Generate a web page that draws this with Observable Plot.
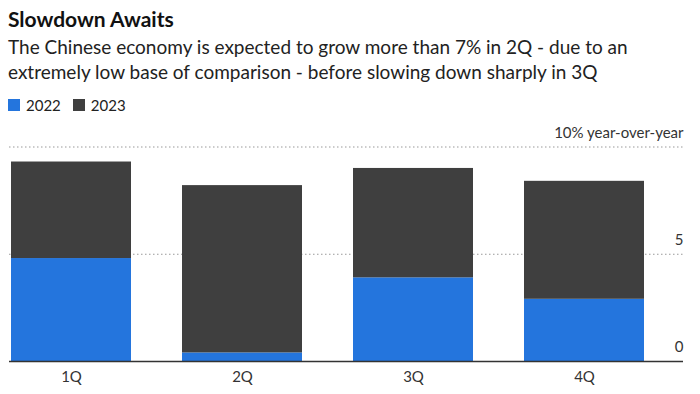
<!DOCTYPE html>
<html>
<head>
<meta charset="utf-8">
<script src="https://cdn.jsdelivr.net/npm/d3@7"></script>
<script src="https://cdn.jsdelivr.net/npm/@observablehq/plot@0.6"></script>
<style>
  html, body { margin: 0; padding: 0; background: #fff; }
  body { width: 700px; height: 394px; overflow: hidden; font-family: Lato, "Noto Sans", sans-serif; color: #222; }
  #head { position: relative; height: 118px; }
  #title { position: absolute; left: 8px; top: 6px; font-size: 21px; font-weight: 700; color: #111; white-space: nowrap; }
  #sub { position: absolute; left: 8px; top: 34px; font-size: 19px; line-height: 25px; color: #222; white-space: nowrap; }
  #legend { position: absolute; left: 8px; top: 96px; font-size: 15px; color: #222; display: flex; align-items: center; }
  .sw { display: inline-block; width: 12px; height: 12px; margin-right: 6px; }
  .item { display: flex; align-items: center; margin-right: 12px; }
  #chart svg { display: block; }
</style>
</head>
<body>
<div id="head">
  <div id="title">Slowdown Awaits</div>
  <div id="sub">The Chinese economy is expected to grow more than 7% in 2Q - due to an<br>extremely low base of comparison - before slowing down sharply in 3Q</div>
  <div id="legend"></div>
</div>
<div id="chart"></div>
<script>
const quarters = ["1Q", "2Q", "3Q", "4Q"];
const years = ["2022", "2023"];
const values2022 = [4.8, 0.4, 3.9, 2.9];
const values2023 = [4.5, 7.8, 5.1, 5.5];
const yTicks = [0, 5, 10];
const yTickLabels = ["0", "5", "10% year-over-year"];
const colors = ["#2475dd", "#3f3f3f"];

const rows = [];
quarters.forEach((q, i) => {
  rows.push({quarter: q, year: years[0], value: values2022[i]});
  rows.push({quarter: q, year: years[1], value: values2023[i]});
});

const legend = document.getElementById("legend");
years.forEach((y, i) => {
  const it = document.createElement("span");
  it.className = "item";
  it.innerHTML = `<span class="sw" style="background:${colors[i]}"></span>${y}`;
  legend.appendChild(it);
});

const gridTicks = yTicks.filter(t => t !== 0);
const tickRows = yTicks.map((t, i) => ({t, label: yTickLabels[i]}));

const chart = Plot.plot({
  width: 700,
  height: 276,
  marginLeft: 9,
  marginRight: 17,
  marginTop: 28.5,
  marginBottom: 33,
  style: {fontFamily: "Lato, 'Noto Sans', sans-serif", fontSize: "15px", color: "#333", background: "#fff"},
  x: {type: "band", domain: quarters, range: [9, 645], paddingInner: 0.3, paddingOuter: 0, label: null, tickSize: 0, tickPadding: 10},
  y: {domain: [0, 10], axis: null},
  color: {domain: years, range: colors},
  marks: [
    Plot.ruleY(gridTicks, {stroke: "#999", strokeDasharray: "1.5,2.5", strokeWidth: 1}),
    Plot.barY(rows, {x: "quarter", y: "value", fill: "year"}),
    Plot.ruleY([0], {stroke: "#333", strokeWidth: 1.5}),
    Plot.text(tickRows, {y: "t", text: "label", frameAnchor: "right", textAnchor: "end", dy: -14, fill: "#333", fontSize: 15}),
    Plot.axisX({tickSize: 0, tickPadding: 10, fontSize: 15, label: null})
  ]
});
document.getElementById("chart").appendChild(chart);
</script>
</body>
</html>
